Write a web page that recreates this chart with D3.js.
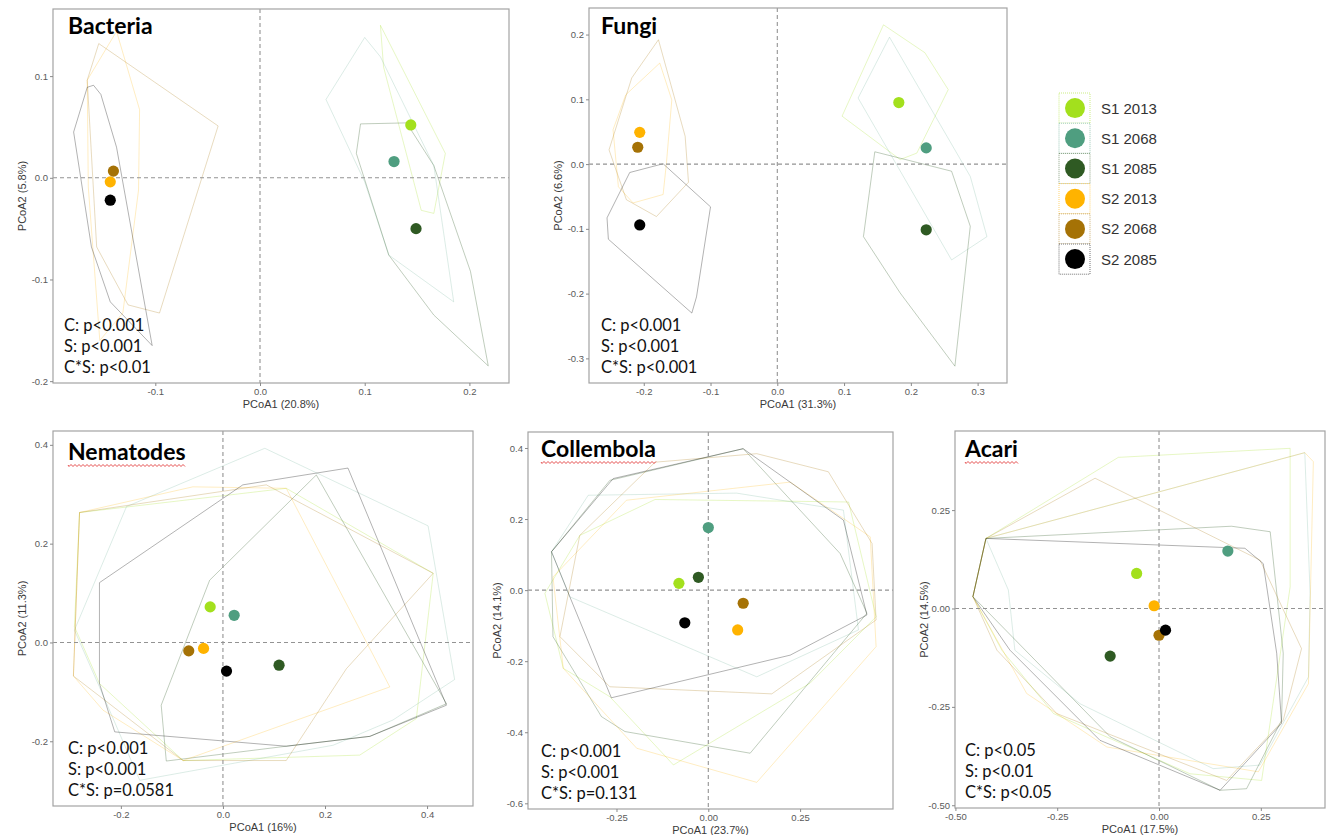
<!DOCTYPE html>
<html>
<head>
<meta charset="utf-8">
<script src="https://cdn.jsdelivr.net/npm/d3@7"></script>
<style>
  body { margin: 0; background: #fff; }
  svg { display: block; }
</style>
</head>
<body>
<svg id="chart" width="1328" height="835"></svg>
<script>
// groups and colours
const groups = ['S1 2013', 'S1 2068', 'S1 2085', 'S2 2013', 'S2 2068', 'S2 2085']
const groupColors = ['#a3e01d', '#4f9e80', '#2f5a23', '#ffb300', '#a57206', '#000000']
const hullOpacity = [0.26, 0.2, 0.3, 0.24, 0.26, 0.3]

// Bacteria
const bacteriaCentroids = [[0.144, 0.052], [0.128, 0.016], [0.149, -0.050], [-0.143, -0.004], [-0.140, 0.0066], [-0.143, -0.022]]
const bacteriaHulls = [
  [[0.115, 0.150], [0.177, 0.024], [0.166, -0.035], [0.154, -0.032], [0.118, 0.109]],
  [[0.063, 0.077], [0.100, 0.138], [0.115, 0.119], [0.166, 0.012], [0.185, -0.122], [0.123, -0.076], [0.100, -0.004]],
  [[0.096, 0.053], [0.140, 0.054], [0.166, 0.012], [0.201, -0.092], [0.218, -0.185], [0.166, -0.135], [0.123, -0.076], [0.092, 0.024]],
  [[-0.137, 0.144], [-0.115, 0.067], [-0.116, -0.012], [-0.131, -0.133], [-0.153, -0.160], [-0.164, -0.009], [-0.165, 0.096]],
  [[-0.154, 0.132], [-0.040, 0.051], [-0.096, -0.133], [-0.126, -0.125], [-0.156, -0.068], [-0.165, 0.096]],
  [[-0.178, 0.045], [-0.165, 0.089], [-0.159, 0.091], [-0.152, 0.082], [-0.137, 0.030], [-0.103, -0.165], [-0.143, -0.122], [-0.161, -0.068]]
]
const bacteriaXTicks = [-0.1, 0, 0.1, 0.2]
const bacteriaYTicks = [-0.2, -0.1, 0, 0.1]
const bacteriaStats = ['C: p<0.001', 'S: p<0.001', 'C*S: p<0.01']

// Fungi
const fungiCentroids = [[0.182, 0.095], [0.223, 0.025], [0.223, -0.1015], [-0.206, 0.049], [-0.209, 0.026], [-0.206, -0.094]]
const fungiHulls = [
  [[0.159, 0.215], [0.221, 0.172], [0.256, 0.115], [0.209, 0.017], [0.184, 0.007], [0.097, 0.074]],
  [[0.168, 0.196], [0.289, -0.019], [0.314, -0.112], [0.261, -0.148], [0.121, 0.102]],
  [[0.146, 0.019], [0.261, -0.011], [0.289, -0.096], [0.266, -0.312], [0.184, -0.199], [0.129, -0.112]],
  [[-0.176, 0.156], [-0.158, 0.099], [-0.166, 0.002], [-0.171, -0.047], [-0.216, -0.060], [-0.238, -0.035], [-0.246, 0.053], [-0.227, 0.107]],
  [[-0.178, 0.192], [-0.138, 0.043], [-0.133, -0.028], [-0.181, -0.081], [-0.226, -0.055], [-0.252, 0.022], [-0.218, 0.133]],
  [[-0.221, -0.013], [-0.171, 0.0005], [-0.100, -0.066], [-0.121, -0.205], [-0.128, -0.230], [-0.253, -0.116], [-0.255, -0.083]]
]
const fungiXTicks = [-0.2, -0.1, 0, 0.1, 0.2, 0.3]
const fungiYTicks = [-0.3, -0.2, -0.1, 0, 0.1, 0.2]
const fungiStats = ['C: p<0.001', 'S: p<0.001', 'C*S: p<0.001']

// Nematodes
const nematodeCentroids = [[-0.025, 0.072], [0.022, 0.055], [0.110, -0.046], [-0.038, -0.012], [-0.067, -0.017], [0.007, -0.058]]
const nematodeHulls = [
  [[-0.281, 0.263], [0.124, 0.312], [0.412, 0.140], [0.379, -0.154], [0.268, -0.228], [-0.078, -0.239], [-0.242, -0.083], [-0.291, 0.032]],
  [[-0.189, 0.275], [0.082, 0.393], [0.402, 0.236], [0.454, -0.075], [0.333, -0.157], [0.216, -0.208], [-0.163, -0.279], [-0.242, -0.090], [-0.291, 0.025]],
  [[-0.026, 0.126], [0.183, 0.339], [0.438, -0.124], [0.288, -0.190], [0.124, -0.210], [-0.111, -0.240], [-0.121, -0.127]],
  [[-0.281, 0.263], [-0.059, 0.315], [0.124, 0.312], [0.327, -0.090], [-0.078, -0.239], [-0.235, -0.137], [-0.293, -0.068]],
  [[-0.293, -0.068], [-0.281, 0.263], [0.085, 0.319], [0.412, 0.140], [0.242, -0.053], [0.124, -0.239], [-0.078, -0.239]],
  [[-0.242, 0.121], [0.039, 0.319], [0.245, 0.353], [0.438, -0.127], [0.288, -0.190], [0.124, -0.210], [-0.212, -0.181], [-0.242, -0.083]]
]
const nematodeXTicks = [-0.2, 0, 0.2, 0.4]
const nematodeYTicks = [-0.2, 0, 0.2, 0.4]
const nematodeStats = ['C: p<0.001', 'S: p<0.001', 'C*S: p=0.0581']

// Collembola
const collembolaCentroids = [[-0.080, 0.019], [0.0, 0.176], [-0.027, 0.036], [0.080, -0.112], [0.095, -0.037], [-0.064, -0.092]]
const collembolaHulls = [
  [[-0.445, -0.009], [-0.350, 0.154], [-0.145, 0.255], [0.382, 0.248], [0.457, -0.075], [0.277, -0.262], [-0.095, -0.492], [-0.268, -0.300], [-0.395, -0.220]],
  [[-0.427, 0.108], [-0.327, 0.267], [0.077, 0.273], [0.368, 0.225], [0.409, -0.112], [0.132, -0.244], [-0.377, -0.019]],
  [[-0.427, 0.108], [-0.268, 0.309], [0.095, 0.398], [0.359, 0.103], [0.432, -0.065], [0.114, -0.459], [-0.227, -0.398], [-0.291, -0.356], [-0.423, -0.131]],
  [[-0.395, -0.220], [-0.423, 0.037], [-0.223, 0.253], [0.223, 0.304], [0.441, 0.150], [0.457, -0.159], [0.132, -0.541], [-0.195, -0.445]],
  [[-0.350, 0.154], [-0.145, 0.360], [0.132, 0.384], [0.327, 0.333], [0.446, 0.131], [0.457, -0.084], [0.173, -0.292], [-0.268, -0.272], [-0.404, -0.131]],
  [[-0.427, 0.108], [-0.259, 0.314], [0.095, 0.398], [0.368, 0.197], [0.432, -0.070], [0.223, -0.183], [-0.264, -0.303], [-0.377, -0.019]]
]
const collembolaXTicks = [-0.25, 0, 0.25]
const collembolaYTicks = [-0.6, -0.4, -0.2, 0, 0.2, 0.4]
const collembolaStats = ['C: p<0.001', 'S: p<0.001', 'C*S: p=0.131']

// Acari
const acariCentroids = [[-0.055, 0.089], [0.169, 0.146], [-0.120, -0.121], [-0.012, 0.007], [0.0, -0.068], [0.016, -0.055]]
const acariHulls = [
  [[-0.425, 0.178], [-0.100, 0.384], [0.322, 0.407], [0.322, 0.055], [0.252, -0.437], [0.076, -0.420], [-0.259, -0.267], [-0.386, -0.106], [-0.457, 0.030]],
  [[-0.425, 0.178], [0.358, 0.396], [0.371, 0.038], [0.367, -0.174], [0.248, -0.398], [0.133, -0.407], [-0.194, -0.242], [-0.354, -0.106], [-0.370, 0.047]],
  [[-0.457, 0.030], [-0.425, 0.178], [0.178, 0.209], [0.273, 0.195], [0.305, -0.114], [0.301, -0.284], [0.215, -0.458], [0.150, -0.462], [-0.120, -0.326]],
  [[-0.425, 0.178], [0.358, 0.396], [0.379, 0.373], [0.367, -0.191], [0.244, -0.415], [-0.128, -0.352], [-0.325, -0.216], [-0.457, 0.030]],
  [[-0.457, 0.030], [-0.425, 0.178], [-0.157, 0.331], [0.248, 0.123], [0.350, -0.102], [0.305, -0.284], [0.166, -0.437], [-0.251, -0.267], [-0.398, -0.106]],
  [[-0.457, 0.030], [-0.425, 0.178], [0.211, 0.153], [0.256, 0.114], [0.289, -0.114], [0.301, -0.292], [0.150, -0.462], [-0.145, -0.335], [-0.366, -0.106]]
]
const acariXTicks = [-0.5, -0.25, 0, 0.25]
const acariYTicks = [-0.5, -0.25, 0, 0.25]
const acariStats = ['C: p<0.05', 'S: p<0.01', 'C*S: p<0.05']

const panels = [
  { title: 'Bacteria', squiggle: false, frame: [53, 9, 456, 374], xDomain: [-0.1977, 0.2378], yDomain: [-0.2018, 0.166],
    centroids: bacteriaCentroids, hulls: bacteriaHulls, xTicks: bacteriaXTicks, yTicks: bacteriaYTicks, fmt: '.1f',
    xTitle: 'PCoA1 (20.8%)', yTitle: 'PCoA2 (5.8%)', stats: bacteriaStats, titleDx: 15, titleDy: 25, statsDx: 11 },
  { title: 'Fungi', squiggle: false, frame: [589, 8, 418, 375], xDomain: [-0.282, 0.344], yDomain: [-0.338, 0.241],
    centroids: fungiCentroids, hulls: fungiHulls, xTicks: fungiXTicks, yTicks: fungiYTicks, fmt: '.1f',
    xTitle: 'PCoA1 (31.3%)', yTitle: 'PCoA2 (6.6%)', stats: fungiStats, titleDx: 12, titleDy: 26, statsDx: 12 },
  { title: 'Nematodes', squiggle: true, frame: [53, 431, 420, 375], xDomain: [-0.333, 0.490], yDomain: [-0.331, 0.428],
    centroids: nematodeCentroids, hulls: nematodeHulls, xTicks: nematodeXTicks, yTicks: nematodeYTicks, fmt: '.1f',
    xTitle: 'PCoA1 (16%)', yTitle: 'PCoA2 (11.3%)', stats: nematodeStats, titleDx: 15, titleDy: 29, statsDx: 15 },
  { title: 'Collembola', squiggle: true, frame: [528, 432, 365, 377], xDomain: [-0.491, 0.503], yDomain: [-0.616, 0.445],
    centroids: collembolaCentroids, hulls: collembolaHulls, xTicks: collembolaXTicks, yTicks: collembolaYTicks, fmt: '.2f', yFmt: '.1f',
    xTitle: 'PCoA1 (23.7%)', yTitle: 'PCoA2 (14.1%)', stats: collembolaStats, titleDx: 13, titleDy: 25, statsDx: 13 },
  { title: 'Acari', squiggle: true, frame: [955, 431, 370, 377], xDomain: [-0.501, 0.4076], yDomain: [-0.507, 0.451],
    centroids: acariCentroids, hulls: acariHulls, xTicks: acariXTicks, yTicks: acariYTicks, fmt: '.2f',
    xTitle: 'PCoA1 (17.5%)', yTitle: 'PCoA2 (14.5%)', stats: acariStats, titleDx: 10, titleDy: 26, statsDx: 10 }
]

const svg = d3.select('#chart')
const textFont = 'Lato, "Open Sans", sans-serif'
const axisFont = '"Liberation Sans", Arial, sans-serif'

function drawPanel(p) {
  const [fx, fy, fw, fh] = p.frame
  const x = d3.scaleLinear().domain(p.xDomain).range([fx, fx + fw])
  const y = d3.scaleLinear().domain(p.yDomain).range([fy + fh, fy])
  const g = svg.append('g')

  const clipId = 'clip-' + p.title
  g.append('clipPath').attr('id', clipId)
    .append('rect').attr('x', fx).attr('y', fy).attr('width', fw).attr('height', fh)

  const plot = g.append('g').attr('clip-path', 'url(#' + clipId + ')')

  // hulls
  plot.selectAll('polygon.hull')
    .data(p.hulls)
    .join('polygon')
    .attr('class', 'hull')
    .attr('points', d => d.map(v => x(v[0]) + ',' + y(v[1])).join(' '))
    .attr('fill', 'none')
    .attr('stroke', (d, i) => groupColors[i])
    .attr('stroke-opacity', (d, i) => hullOpacity[i])
    .attr('stroke-width', 1)

  // zero lines
  plot.append('line')
    .attr('x1', x(0)).attr('x2', x(0)).attr('y1', fy).attr('y2', fy + fh)
    .attr('stroke', '#939393').attr('stroke-width', 1.1).attr('stroke-dasharray', '4,3')
  plot.append('line')
    .attr('x1', fx).attr('x2', fx + fw).attr('y1', y(0)).attr('y2', y(0))
    .attr('stroke', '#939393').attr('stroke-width', 1.1).attr('stroke-dasharray', '4,3')

  // centroids
  plot.selectAll('circle.pt')
    .data(p.centroids)
    .join('circle')
    .attr('class', 'pt')
    .attr('cx', d => x(d[0]))
    .attr('cy', d => y(d[1]))
    .attr('r', 5.6)
    .attr('fill', (d, i) => groupColors[i])

  // frame
  g.append('rect')
    .attr('x', fx).attr('y', fy).attr('width', fw).attr('height', fh)
    .attr('fill', 'none').attr('stroke', '#a3a3a3').attr('stroke-width', 1.2)

  // axes
  const xAxis = g.append('g')
    .attr('transform', 'translate(0,' + (fy + fh) + ')')
    .call(d3.axisBottom(x).tickValues(p.xTicks).tickFormat(d3.format(p.fmt)).tickSize(3).tickPadding(2))
  const yAxis = g.append('g')
    .attr('transform', 'translate(' + fx + ',0)')
    .call(d3.axisLeft(y).tickValues(p.yTicks).tickFormat(d3.format(p.yFmt || p.fmt)).tickSize(3).tickPadding(2))
  for (const ax of [xAxis, yAxis]) {
    ax.select('.domain').remove()
    ax.selectAll('line').attr('stroke', '#8a8a8a')
    ax.selectAll('text')
      .attr('fill', '#5a5a5a')
      .style('font-family', axisFont)
      .style('font-size', '9.5px')
      .text(function () { return this.textContent.replace('\u2212', '-') })
  }

  g.append('text')
    .attr('x', fx + fw / 2).attr('y', fy + fh + 25)
    .attr('text-anchor', 'middle')
    .attr('fill', '#3a3a3a')
    .style('font-family', axisFont).style('font-size', '11px')
    .text(p.xTitle)
  g.append('text')
    .attr('transform', 'translate(' + (fx - 27) + ',' + (fy + fh / 2) + ') rotate(-90)')
    .attr('text-anchor', 'middle')
    .attr('fill', '#3a3a3a')
    .style('font-family', axisFont).style('font-size', '11px')
    .text(p.yTitle)

  // panel title
  const title = g.append('text')
    .attr('x', fx + p.titleDx).attr('y', fy + p.titleDy)
    .attr('fill', '#000')
    .style('font-family', textFont).style('font-size', '23px').style('font-weight', 'bold')
    .text(p.title)

  if (p.squiggle) {
    const w = title.node().getComputedTextLength()
    const x0 = fx + p.titleDx
    const yy = fy + p.titleDy + 5
    let d = 'M' + x0 + ',' + yy
    for (let k = 0; k * 2 < w; k++) {
      d += ' L' + (x0 + k * 2 + 1) + ',' + (yy + (k % 2 === 0 ? 1.5 : -0.5))
    }
    g.append('path').attr('d', d).attr('fill', 'none').attr('stroke', '#e23b3b').attr('stroke-width', 0.9)
  }

  // stats
  g.selectAll('text.stat')
    .data(p.stats)
    .join('text')
    .attr('class', 'stat')
    .attr('x', fx + p.statsDx)
    .attr('y', (d, i) => fy + fh - 52 + i * 21)
    .attr('fill', '#111')
    .style('font-family', textFont).style('font-size', '16.5px')
    .text(d => d)
}

panels.forEach(drawPanel)

// legend
const legend = svg.append('g').attr('transform', 'translate(1059,93)')
const rowH = 30.2
const rows = legend.selectAll('g.row')
  .data(groups)
  .join('g')
  .attr('class', 'row')
  .attr('transform', (d, i) => 'translate(0,' + i * rowH + ')')
rows.append('rect')
  .attr('x', 0).attr('y', 0).attr('width', 31).attr('height', rowH)
  .attr('fill', '#fff')
  .attr('stroke', (d, i) => groupColors[i])
  .attr('stroke-opacity', 0.55)
  .attr('stroke-width', 1)
  .attr('stroke-dasharray', '1,1')
rows.append('circle')
  .attr('cx', 16).attr('cy', rowH / 2).attr('r', 10)
  .attr('fill', (d, i) => groupColors[i])
rows.append('text')
  .attr('x', 42).attr('y', rowH / 2 + 5.5)
  .attr('fill', '#333')
  .style('font-family', axisFont).style('font-size', '15px')
  .text(d => d)
</script>
</body>
</html>
